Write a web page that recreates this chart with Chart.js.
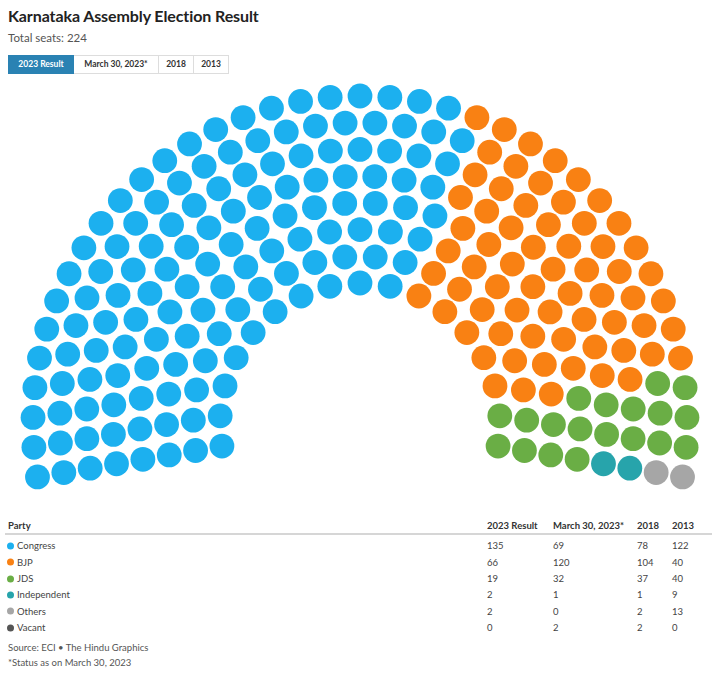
<!DOCTYPE html>
<html>
<head>
<meta charset="utf-8">
<script src="https://cdn.jsdelivr.net/npm/chart.js@4"></script>
<style>
  html, body { margin: 0; padding: 0; background: #fff; }
  body { width: 720px; height: 677px; position: relative; overflow: hidden; font-family: Lato, "Open Sans", sans-serif; color: #333; }
  #title { position: absolute; left: 8px; top: 6px; font-size: 16px; font-weight: 700; color: #222; letter-spacing: -0.1px; }
  #sub { position: absolute; left: 8px; top: 31px; font-size: 11.5px; color: #555; }
  #btns { position: absolute; left: 8px; top: 55px; height: 18px; display: flex; }
  .btn { height: 17px; line-height: 17px; font-size: 8.5px; font-weight: 700; color: #333; border: 1px solid #ddd; border-left: none; text-align: center; box-sizing: content-box; cursor: pointer; background: #fff; }
  .btn:first-child { border-left: 1px solid #ddd; }
  .btn.sel { background: #2a82b3; color: #fff; border-color: #2a82b3; }
  #wrap { position: absolute; left: 0; top: 80px; width: 720px; height: 425px; }
  .cell { position: absolute; font-size: 9.5px; color: #444; white-space: nowrap; transform: translateY(-50%); }
  .hdr { font-weight: 700; color: #333; }
  .dot { display: inline-block; width: 7px; height: 7px; border-radius: 50%; margin-right: 3px; vertical-align: -0.5px; }
  #rule { position: absolute; left: 5px; top: 533px; width: 707px; height: 2px; background: #d6d6d6; }
  .foot { position: absolute; left: 8px; font-size: 9.5px; color: #555; }
</style>
</head>
<body>
<div id="title">Karnataka Assembly Election Result</div>
<div id="sub">Total seats: 224</div>
<div id="btns"></div>
<div id="wrap"><canvas id="c" width="720" height="425"></canvas></div>
<div id="rule"></div>
<div id="table"></div>
<div class="foot" style="top:642px">Source: ECI • The Hindu Graphics</div>
<div class="foot" style="top:657px">*Status as on March 30, 2023</div>
<script>
// ---- data ----
const parties = ["Congress", "BJP", "JDS", "Independent", "Others", "Vacant"];
const partyColors = ["#1cb0ef", "#f98113", "#6aae45", "#27a4ab", "#a6a6a6", "#555555"];
const seasons = ["2023 Result", "March 30, 2023*", "2018", "2013"];
const seats2023 = [135, 66, 19, 2, 2, 0];
const seatsMar2023 = [69, 120, 32, 1, 0, 2];
const seats2018 = [78, 104, 37, 1, 2, 2];
const seats2013 = [122, 40, 40, 9, 13, 0];
const seatSets = [seats2023, seatsMar2023, seats2018, seats2013];

// ---- hemicycle layout (derived from seat counts) ----
const RINGS = 8, R_OUT = 327, R_IN = 140, A_START = -9.5, A_END = 189.5;
function layout(counts) {
  const total = counts.reduce((a, b) => a + b, 0);
  const radii = [];
  for (let k = 0; k < RINGS; k++) radii.push(R_OUT - k * (R_OUT - R_IN) / (RINGS - 1));
  const sumR = radii.reduce((a, b) => a + b, 0);
  const n = radii.map(r => Math.round(total * r / sumR));
  n[0] += total - n.reduce((a, b) => a + b, 0);
  const seats = [];
  radii.forEach((r, k) => {
    for (let j = 0; j < n[k]; j++) {
      const deg = A_END - j * (A_END - A_START) / (n[k] - 1);
      seats.push({ deg: Math.round(deg * 1e6) / 1e6, r });
    }
  });
  seats.sort((a, b) => (b.deg - a.deg) || (a.r - b.r));
  const out = parties.map(() => []);
  let idx = 0;
  counts.forEach((c, p) => {
    for (let i = 0; i < c; i++, idx++) {
      const s = seats[idx], t = s.deg * Math.PI / 180;
      out[p].push({ x: s.r * Math.cos(t), y: s.r * Math.sin(t) });
    }
  });
  return out;
}

function datasets(counts) {
  const pts = layout(counts);
  return parties.map((p, i) => ({
    label: p, data: pts[i], backgroundColor: partyColors[i], borderColor: partyColors[i],
    borderWidth: 0, pointRadius: 12.4, pointHoverRadius: 12.4, clip: false
  }));
}

const chart = new Chart(document.getElementById("c"), {
  type: "scatter",
  data: { datasets: datasets(seats2023) },
  options: {
    responsive: false, animation: false,
    layout: { padding: 0, autoPadding: false },
    plugins: { legend: { display: false }, tooltip: { enabled: false } },
    scales: {
      x: { type: "linear", min: -360, max: 360, display: false },
      y: { type: "linear", min: -82, max: 343, display: false }
    }
  }
});

// ---- buttons ----
const btnW = [65, 85, 35, 35];
const btns = document.getElementById("btns");
seasons.forEach((s, i) => {
  const b = document.createElement("div");
  b.className = "btn" + (i === 0 ? " sel" : "");
  b.style.width = (btnW[i] - 1) + "px";
  b.textContent = s;
  b.onclick = () => {
    [...btns.children].forEach(c => c.classList.remove("sel"));
    b.classList.add("sel");
    chart.data.datasets = datasets(seatSets[i]);
    chart.update();
  };
  btns.appendChild(b);
});

// ---- table ----
const table = document.getElementById("table");
const colX = [487, 553, 637, 672];
function cell(txt, x, y, cls) {
  const d = document.createElement("div");
  d.className = "cell" + (cls ? " " + cls : "");
  d.style.left = x + "px"; d.style.top = y + "px";
  if (typeof txt === "string") d.textContent = txt; else d.appendChild(txt);
  table.appendChild(d);
}
cell("Party", 8, 525, "hdr");
seasons.forEach((s, i) => cell(s, colX[i], 525, "hdr"));
const rowY = [545, 561.5, 578, 594, 610.5, 627];
parties.forEach((p, r) => {
  const frag = document.createElement("span");
  const dot = document.createElement("span");
  dot.className = "dot"; dot.style.background = partyColors[r];
  frag.appendChild(dot); frag.appendChild(document.createTextNode(p));
  cell(frag, 7, rowY[r]);
  seatSets.forEach((set, i) => cell(String(set[r]), colX[i], rowY[r]));
});
</script>
</body>
</html>
